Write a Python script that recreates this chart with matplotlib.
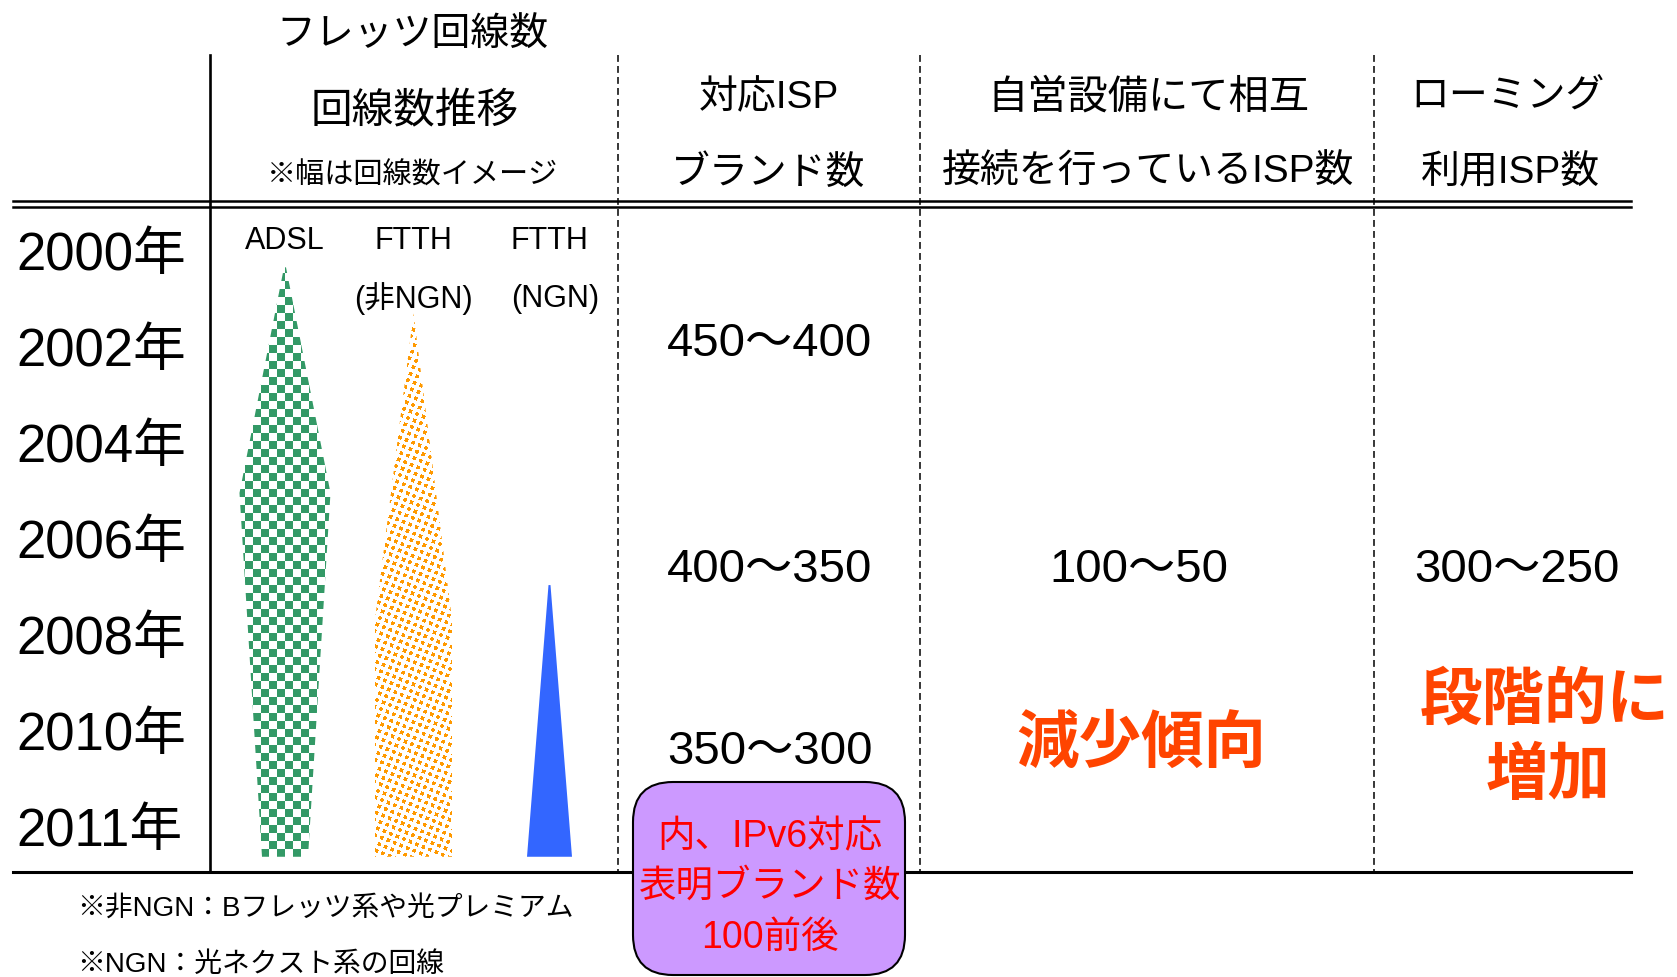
#!/usr/bin/env python3
"""Flets line count vs ISP brand counts, drawn as a table-like diagram.
"""

import numpy as np
import matplotlib
matplotlib.use('Agg')
import matplotlib.pyplot as plt
from matplotlib.patches import Polygon, FancyBboxPatch

plt.rcParams['font.family'] = ['Liberation Sans', 'Noto Sans CJK JP', 'DejaVu Sans']

# --- data -------------------------------------------------------------
years = ['2000年', '2002年', '2004年', '2006年', '2008年', '2010年', '2011年']

line_names = ['ADSL', 'FTTH', 'FTTH']
line_subnames = ['', '(非NGN)', '(NGN)']

# shape profile per line type: row position (0 = 2000, 6 = 2011) and width
adsl_rows = [0.17, 2.52, 6.31]
adsl_widths = [2, 91, 46]
ftth_rows = [0.65, 3.84, 6.31]
ftth_widths = [0, 77, 77]
ngn_rows = [3.48, 6.31]
ngn_widths = [2, 45]

brand_labels = ['450～400', '400～350', '350～300']
brand_rows = [0.92, 3.27, 5.17]
interconnect_label = '100～50'
roaming_label = '300～250'
value_row = 3.27

ipv6_note = ['内、IPv6対応', '表明ブランド数', '100前後']
footnotes = ['※非NGN：Bフレッツ系や光プレミアム', '※NGN：光ネクスト系の回線']

W, H = 1677, 977
ROW0, ROW_STEP = 251, 96
DY = 5  # text box center sits a bit above the glyph center


def row_y(r):
  return ROW0 + ROW_STEP * r


def label(ax, x, y, s, **kw):
  kw.setdefault('ha', 'center')
  ax.text(x, y + DY, s, va='center', **kw)


def profile_polygon(cx, rows, widths):
  left = [(cx - w / 2, row_y(r)) for r, w in zip(rows, widths)]
  right = [(cx + w / 2, row_y(r)) for r, w in zip(rows, widths)]
  return np.array(left + right[::-1])


def checker_texture(w, h, cell, rgb):
  yy, xx = np.mgrid[0:h, 0:w]
  mask = ((xx // cell) + (yy // cell)) % 2 == 0
  img = np.ones((h, w, 3))
  img[mask] = rgb
  return img


def dot_texture(w, h, rgb, pitch=7.0, dot=3.6, angle=22):
  # small squares on a slightly rotated lattice
  yy, xx = np.mgrid[0:h, 0:w].astype(float)
  t = np.radians(angle)
  u = xx * np.cos(t) + yy * np.sin(t)
  v = -xx * np.sin(t) + yy * np.cos(t)
  mask = ((u % pitch) < dot) & ((v % pitch) < dot)
  img = np.ones((h, w, 3))
  img[mask] = rgb
  return img


def textured_shape(ax, pts, img):
  x0, x1 = pts[:, 0].min() - 2, pts[:, 0].max() + 2
  y0, y1 = pts[:, 1].min() - 2, pts[:, 1].max() + 2
  poly = Polygon(pts, closed=True, facecolor='none', edgecolor='none')
  ax.add_patch(poly)
  h, w = int(y1 - y0), int(x1 - x0)
  im = ax.imshow(img(w, h), extent=(x0, x0 + w, y0 + h, y0),
                 interpolation='nearest', zorder=2)
  im.set_clip_path(poly)


def main():
  fig = plt.figure(figsize=(W / 100, H / 100), dpi=100)
  ax = fig.add_axes([0, 0, 1, 1])
  ax.axis('off')

  # grid lines
  ax.plot([210, 210], [55, 872], color='black', lw=1.9)
  for x in [618, 920, 1374]:
    ax.plot([x, x], [55, 872], color='black', lw=1.1, linestyle=(0, (4.5, 2.7)))
  ax.plot([13, 1631], [201, 201], color='black', lw=1.8)
  ax.plot([13, 1631], [206.5, 206.5], color='black', lw=1.8)
  ax.plot([13, 1631], [872, 872], color='black', lw=2.2)

  # headers
  label(ax, 412, 31, 'フレッツ回線数', fontsize=28)
  label(ax, 415, 107, '回線数推移', fontsize=30)
  label(ax, 413, 171, '※幅は回線数イメージ', fontsize=21)
  label(ax, 769, 93, '対応ISP', fontsize=28)
  label(ax, 768, 168, 'ブランド数', fontsize=28)
  label(ax, 1148, 93, '自営設備にて相互', fontsize=29)
  label(ax, 1148, 168, '接続を行っているISP数', fontsize=28)
  label(ax, 1508, 93, 'ローミング', fontsize=28)
  label(ax, 1510, 168, '利用ISP数', fontsize=28)

  # year rows
  for i, yr in enumerate(years):
    label(ax, 16, row_y(i), yr, fontsize=38, ha='left')

  # line type labels
  centers = [285, 413.5, 549.5]
  for cx, name, sub in zip(centers, line_names, line_subnames):
    label(ax, cx, 236, name, fontsize=22)
    if sub:
      label(ax, cx + (6 if sub == '(NGN)' else 0), 294, sub, fontsize=22)

  # line count shapes
  green = np.array([0x33, 0x99, 0x66]) / 255
  orange = np.array([0xFF, 0x99, 0x00]) / 255
  textured_shape(ax, profile_polygon(centers[0], adsl_rows, adsl_widths),
                 lambda w, h: checker_texture(w, h, 8, green))
  textured_shape(ax, profile_polygon(centers[1], ftth_rows, ftth_widths),
                 lambda w, h: dot_texture(w, h, orange))
  ax.add_patch(Polygon(profile_polygon(centers[2], ngn_rows, ngn_widths),
                       closed=True, facecolor='#3366FF', edgecolor='none', zorder=2))

  # ISP counts
  for lbl, r in zip(brand_labels, brand_rows):
    label(ax, 770, row_y(r), lbl, fontsize=34)
  label(ax, 1139, row_y(value_row), interconnect_label, fontsize=34)
  label(ax, 1517, row_y(value_row), roaming_label, fontsize=34)

  red_orange = '#FF4400'
  label(ax, 1141, 740, '減少傾向', fontsize=45, fontweight='bold', color=red_orange)
  label(ax, 1545, 697, '段階的に', fontsize=45, fontweight='bold', color=red_orange)
  label(ax, 1548, 772, '増加', fontsize=45, fontweight='bold', color=red_orange)

  # IPv6 note box
  box = FancyBboxPatch((633, 782), 272, 193, boxstyle='round,pad=0,rounding_size=40',
                       facecolor='#CC99FF', edgecolor='black', lw=1.5, zorder=3)
  ax.add_patch(box)
  for txt, y in zip(ipv6_note, [832, 882, 933]):
    label(ax, 770, y, txt, fontsize=27, color='#FF0000', zorder=4)

  # footnotes
  label(ax, 77, 904, footnotes[0], fontsize=20, ha='left')
  label(ax, 77, 960, footnotes[1], fontsize=20, ha='left')

  ax.set_xlim(0, W)
  ax.set_ylim(H, 0)
  ax.set_aspect('auto')
  fig.savefig('out.png', dpi=100)


if __name__ == "__main__":
  main()
